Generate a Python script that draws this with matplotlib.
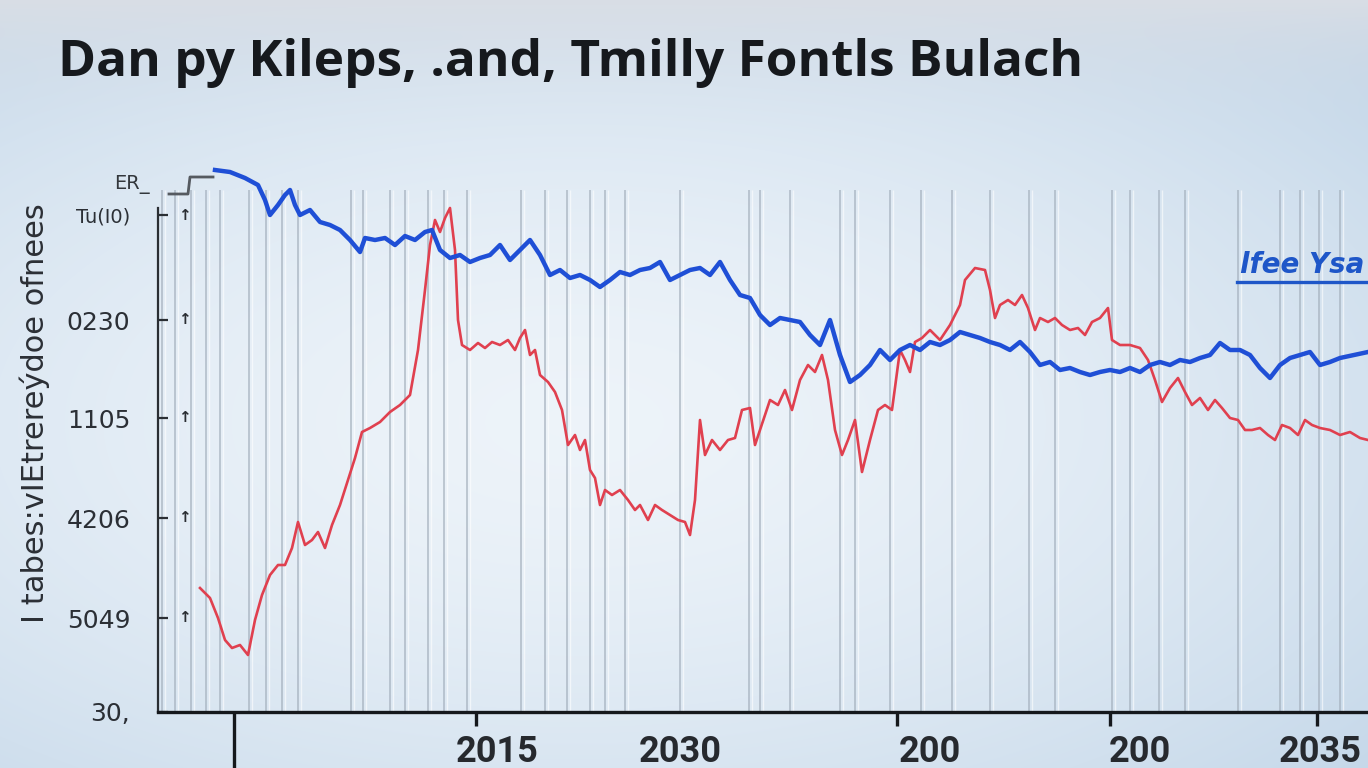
import numpy as np
import matplotlib
matplotlib.use("Agg")
import matplotlib.pyplot as plt

# ---------------- data ----------------
title = "Dan py Kileps, .and, Tmilly Fontls Bulach"
y_axis_label = "I tabes:vIEtrereýdoe ofnees"
legend_text = "lfee Ysa"

blue_x = [5.7, 7.2, 8.7, 10.0, 10.7, 11.2, 12.0, 12.7, 13.2, 13.7, 14.2, 15.2, 16.2, 17.2, 18.2,
          19.2, 20.2, 20.7, 21.7, 22.7, 23.7, 24.7, 25.7, 26.7, 27.4, 28.2, 29.2, 30.2, 31.2,
          32.2, 33.2, 34.2, 35.2, 36.2, 37.2, 38.2, 39.2, 40.2, 41.2, 42.2, 43.2, 44.2, 45.2,
          46.2, 47.2, 48.2, 49.2, 50.2, 51.2, 52.2, 53.2, 54.2, 55.2, 56.2, 57.2, 58.2, 59.2,
          60.2, 61.2, 62.2, 63.2, 64.2, 65.2, 66.2, 67.2, 68.2, 69.2, 70.2, 71.2, 72.2, 73.2,
          74.2, 75.2, 76.2, 77.2, 78.2, 79.2, 80.2, 81.2, 82.2, 83.2, 84.2, 85.2, 86.2, 87.2,
          88.2, 89.2, 90.2, 91.2, 92.2, 93.2, 94.2, 95.2, 96.2, 97.2, 98.2, 99.2, 100.2, 101.2,
          102.2, 103.2, 104.2, 105.2, 106.2, 107.2, 108.2, 109.2, 110.2, 111.2, 112.2, 113.2,
          114.2, 115.2, 116.2, 117.2, 118.2, 121.0]
blue_y = [54.2, 54.0, 53.4, 52.7, 51.2, 49.7, 50.7, 51.7, 52.2, 50.7, 49.7, 50.2, 49.0, 48.7, 48.2,
          47.2, 46.0, 47.4, 47.2, 47.4, 46.7, 47.6, 47.2, 48.0, 48.2, 46.2, 45.4, 45.7, 45.0,
          45.4, 45.7, 46.7, 45.2, 46.2, 47.2, 45.7, 43.7, 44.2, 43.4, 43.7, 43.2, 42.5, 43.2,
          44.0, 43.7, 44.2, 44.4, 45.0, 43.2, 43.7, 44.2, 44.4, 43.7, 45.0, 43.2, 41.7, 41.4,
          39.7, 38.7, 39.4, 39.2, 39.0, 37.7, 36.7, 39.2, 35.7, 33.0, 33.7, 34.7, 36.2, 35.2,
          36.2, 36.7, 36.2, 37.0, 36.7, 37.2, 38.0, 37.7, 37.4, 37.0, 36.7, 36.2, 37.0, 36.0,
          34.7, 35.0, 34.2, 34.4, 34.0, 33.7, 34.0, 34.2, 34.0, 34.4, 34.0, 34.7, 35.0, 34.7,
          35.2, 35.0, 35.4, 35.7, 36.9, 36.2, 36.2, 35.7, 34.4, 33.4, 34.7, 35.4,
          35.7, 36.0, 34.7, 35.0, 35.4, 36.0]

red_x = [4.2, 5.2, 6.0, 6.7, 7.4, 8.2, 9.0, 9.7, 10.4, 11.2, 12.0, 12.7, 13.4, 14.0, 14.7, 15.4,
         16.0, 16.7, 17.4, 18.2, 19.0, 19.7, 20.4, 21.2, 22.2, 23.2, 24.2, 25.2, 26.0, 26.7,
         27.2, 27.7, 28.2, 28.7, 29.2, 29.7, 30.0, 30.4, 31.2, 32.0, 32.7, 33.4, 34.2, 35.0,
         35.7, 36.2, 36.7, 37.2, 37.7, 38.2, 39.0, 39.7, 40.4, 41.0, 41.7, 42.2, 42.7, 43.2,
         43.7, 44.2, 44.7, 45.4, 46.2, 47.0, 47.7, 48.2, 49.0, 49.7, 50.4, 51.2, 52.0, 52.7,
         53.2, 53.7, 54.2, 54.7, 55.4, 56.2, 57.0, 57.7, 58.4, 59.2, 59.7, 60.2, 61.2, 62.0,
         62.7, 63.4, 64.2, 65.0, 65.7, 66.4, 67.0, 67.7, 68.4, 69.0, 69.7, 70.4, 71.2, 72.0,
         72.7, 73.4, 74.2, 74.7, 75.2, 75.7, 76.4, 77.2, 78.2, 79.2, 80.2, 80.7, 81.7, 82.7,
         83.2, 83.7, 84.2, 85.0, 85.7, 86.4, 87.0, 87.7, 88.2, 89.0, 89.7, 90.4, 91.2, 92.0,
         92.7, 93.4, 94.2, 95.0, 95.4, 96.2, 97.2, 98.2, 99.0, 99.7, 100.4, 101.2, 102.0,
         102.7, 103.4, 104.2, 105.0, 105.7, 106.4, 107.2, 108.0, 108.7, 109.4, 110.2, 111.0,
         111.7, 112.4, 113.2, 114.0, 114.7, 115.4, 116.2, 117.2, 118.2, 119.2, 120.2, 121.0]
red_y = [12.4, 11.4, 9.4, 7.2, 6.4, 6.7, 5.7, 9.2, 11.7, 13.7, 14.7, 14.7, 16.4, 19.0, 16.7, 17.2,
         18.0, 16.4, 18.7, 20.7, 23.2, 25.4, 28.0, 28.4, 29.0, 30.0, 30.7, 31.7, 36.2, 42.2,
         46.7, 49.2, 48.0, 49.4, 50.4, 46.2, 39.2, 36.7, 36.2, 36.9, 36.4, 37.0, 36.7, 37.2,
         36.2, 37.4, 38.2, 35.7, 36.2, 33.7, 33.0, 32.0, 30.2, 26.7, 27.7, 26.2, 27.2, 24.2,
         23.4, 20.7, 22.2, 21.7, 22.2, 21.2, 20.2, 20.7, 19.2, 20.7, 20.2, 19.7, 19.2, 19.0,
         17.7, 21.2, 29.2, 25.7, 27.2, 26.2, 27.2, 27.4, 30.2, 30.4, 26.7, 28.2, 31.2, 30.7,
         32.2, 30.2, 33.2, 34.7, 34.0, 35.7, 33.2, 28.2, 25.7, 27.2, 29.2, 24.0, 27.2, 30.2,
         30.7, 30.2, 36.2, 35.2, 34.0, 37.0, 37.4, 38.2, 37.2, 38.7, 40.7, 43.2, 44.4, 44.2,
         42.2, 39.4, 40.7, 41.2, 40.7, 41.7, 40.4, 38.2, 39.4, 39.0, 39.4, 38.7, 38.2, 38.4,
         37.7, 39.0, 39.4, 40.4, 37.2, 36.7, 36.7, 36.4, 35.2, 33.2, 31.0, 32.4, 33.4,
         32.0, 30.7, 31.4, 30.2, 31.2, 30.4, 29.4, 29.2, 28.2, 28.2, 28.4, 27.7,
         27.2, 28.7, 28.4, 27.7, 29.2, 28.7, 28.4, 28.2, 27.7, 28.0, 27.4, 27.2]

step_x = [1.1, 3.0, 3.2, 5.5]
step_y = [51.8, 51.8, 53.5, 53.5]

grid_x = [0.4, 1.7, 3.3, 4.8, 6.2, 9.1, 10.8, 12.4, 14.0, 19.3, 20.5, 23.2, 24.7, 27.0, 28.6,
          30.9, 36.3, 38.7, 40.9, 43.2, 44.7, 46.7, 52.2, 59.1, 60.2, 63.2, 68.2, 69.7, 73.2,
          76.3, 79.4, 83.2, 87.1, 89.7, 95.4, 97.2, 100.1, 102.7, 108.0, 112.2, 114.2, 116.1, 118.2]

ytick_pos = [0, 9.4, 19.4, 29.4, 39.2, 49.7]
ytick_labels = ["30,", "5049", "4206", "1105", "0230", "Tu(I0)"]

xlabel_pos = [33.9, 52.2, 77.2, 98.2, 116.2]
xtick_labels = ["2015", "2030", "200", "200", "2035"]
xtick_marks = [31.8, 52.2, 73.9, 95.2, 115.9]
long_tick = [7.6]

# ---------------- figure ----------------
W, H = 1368, 768
fig = plt.figure(figsize=(W / 100, H / 100), dpi=100)

# background gradient
bg = fig.add_axes([0, 0, 1, 1], zorder=-10)
bg.axis("off")
yy, xx = np.mgrid[0:1:H * 1j, 0:1:W * 1j]
c0 = np.array([0.93, 0.955, 0.978])
c1 = np.array([0.75, 0.83, 0.905])
r = np.sqrt(((xx - 0.42) / 0.85) ** 2 + ((yy - 0.55) / 0.75) ** 2)
t = np.clip(r, 0, 1) ** 1.6
img = c0[None, None, :] * (1 - t[..., None]) + c1[None, None, :] * t[..., None]
topc = np.array([0.85, 0.87, 0.90])
tb = np.clip(1 - yy / 0.2, 0, 1) ** 2
img = img * (1 - tb[..., None]) + topc[None, None, :] * tb[..., None]
bg.imshow(img, aspect="auto", extent=[0, 1, 0, 1])
bg.set_xlim(0, 1)
bg.set_ylim(0, 1)

ax = fig.add_axes([158 / W, 56 / H, 1 - 158 / W, 552 / H])
ax.set_facecolor("none")
ax.set_xlim(0, 121)
ax.set_ylim(0, 55.2)

# vertical grid lines
ax.vlines(grid_x, 0, 52.2, colors="#a3afbc", linewidth=1.3, alpha=0.7, zorder=1)
ax.vlines([g + 0.25 for g in grid_x], 0, 52.2, colors="white", linewidth=1.0, alpha=0.6, zorder=1)

ax.plot(step_x, step_y, color="#555a60", linewidth=2, zorder=3, clip_on=False)
ax.plot(red_x, red_y, color="#e0404f", linewidth=1.9, zorder=3, clip_on=False)
ax.plot(blue_x, blue_y, color="#1f4fd6", linewidth=3.2, zorder=4, clip_on=False)

# spines
for s in ["top", "right"]:
    ax.spines[s].set_visible(False)
ax.spines["left"].set_color("#2a2e33")
ax.spines["left"].set_linewidth(1.6)
ax.spines["left"].set_bounds(0, 50.4)
ax.spines["bottom"].set_color("#15181c")
ax.spines["bottom"].set_linewidth(2.4)

# y ticks
ax.set_yticks(ytick_pos)
ax.set_yticklabels(ytick_labels)
ax.tick_params(axis="y", direction="in", length=7, width=1.6, color="#2a2e33",
               pad=20, labelsize=18, labelcolor="#2b2f35")
for lab in ax.get_yticklabels():
    lab.set_fontfamily("DejaVu Sans")
ax.get_yticklabels()[-1].set_fontsize(14)
for yp in ytick_pos[1:]:
    ax.text(2.6, yp, "↑", fontsize=11, fontweight="bold", color="#2a2e33",
            ha="center", va="center", zorder=5)

# x ticks
ax.set_xticks(xlabel_pos)
ax.set_xticklabels(xtick_labels)
ax.tick_params(axis="x", which="major", length=0, pad=16, labelsize=26,
               labelcolor="#26292e")
for lab in ax.get_xticklabels():
    lab.set_fontfamily("Roboto")
    lab.set_fontweight("bold")
ax.set_xticks(xtick_marks + long_tick, minor=True)
ax.tick_params(axis="x", which="minor", length=10, width=2.4, color="#15181c")
ax.xaxis.get_minor_ticks()[-1].tick1line.set_markersize(40)

# extra labels
ax.text(-0.8, 52.7, "ER_", ha="right", va="center", fontsize=14, color="#33373c",
        family="DejaVu Sans", clip_on=False)
ax.text(108.2, 44.7, legend_text, ha="left", va="center", fontsize=20, color="#1e56c8",
        fontweight="bold", fontstyle="italic", family="DejaVu Sans", clip_on=False)
ax.plot([107.9, 121], [43.0, 43.0], color="#1e56c8", linewidth=2.4, clip_on=False)

fig.text(35 / W, 1 - 413 / H, y_axis_label, rotation=90, ha="center", va="center",
         fontsize=22, color="#2b2f35", family="DejaVu Sans")

fig.text(58 / W, 1 - 63 / H, title, ha="left", va="center", fontsize=37,
         fontweight="bold", color="#16191d", family="Open Sans")

fig.savefig("out.png", dpi=100)
